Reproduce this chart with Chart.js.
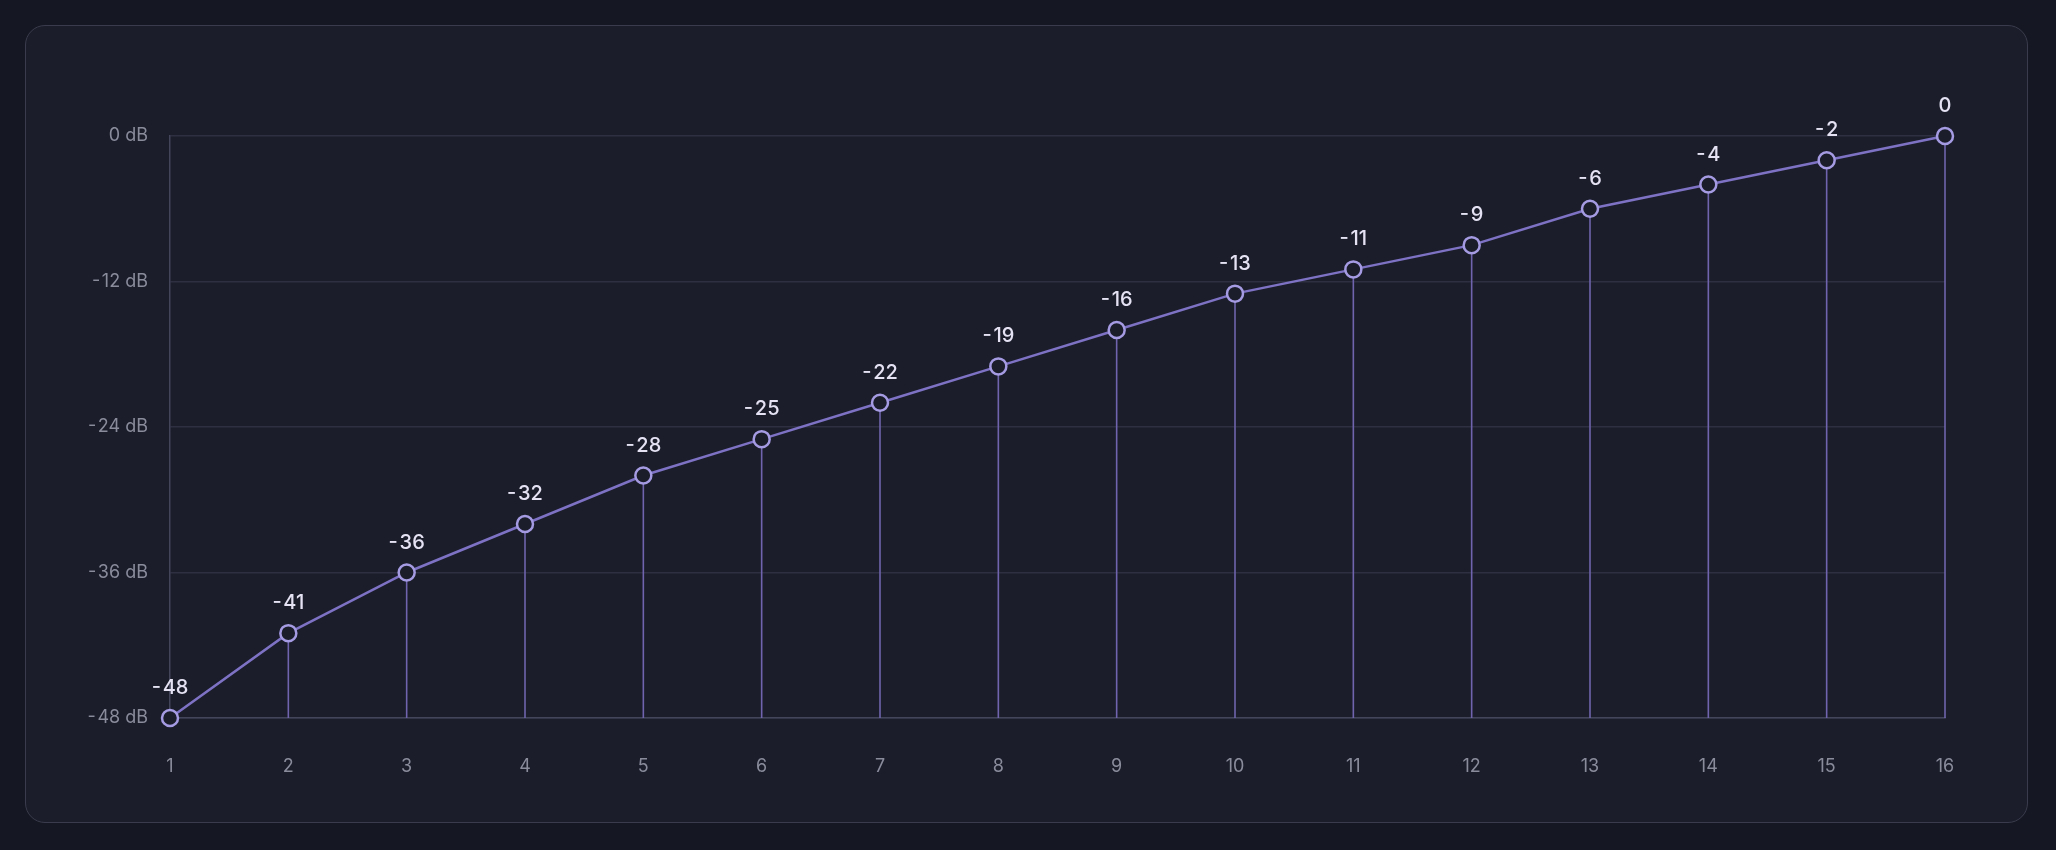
<!DOCTYPE html>
<html>
<head>
<meta charset="utf-8">
<script src="https://cdn.jsdelivr.net/npm/chart.js@4"></script>
<style>
  html, body { margin: 0; padding: 0; background: #151722; }
  body { width: 2056px; height: 850px; position: relative; overflow: hidden; font-family: Inter, sans-serif; }
  .card {
    position: absolute; left: 25px; top: 25px; width: 2001px; height: 796px;
    background: #1b1d2b; border: 1.5px solid #3a3c4d; border-radius: 20px;
  }
  .wrap { position: absolute; left: 0; top: 0; width: 2001px; height: 796px; }
</style>
</head>
<body>
<div class="card"><div class="wrap"><canvas id="gainChart"></canvas></div></div>
<script>
var steps = ["1", "2", "3", "4", "5", "6", "7", "8", "9", "10", "11", "12", "13", "14", "15", "16"];
var gainDb = [-48, -41, -36, -32, -28, -25, -22, -19, -16, -13, -11, -9, -6, -4, -2, 0];
var yTicks = [0, -12, -24, -36, -48];

function withMinus(v) { return String(v).replace('-', '-\u200a'); }

// stems from each point down to the x axis, and value labels above points
var stems = {
  id: 'stems',
  beforeDatasetsDraw: function(chart) {
    var c = chart.ctx, area = chart.chartArea;
    var meta = chart.getDatasetMeta(0);
    c.save();
    c.strokeStyle = '#6f64ad';
    c.lineWidth = 1.6;
    meta.data.forEach(function(pt) {
      c.beginPath();
      c.moveTo(pt.x, pt.y);
      c.lineTo(pt.x, area.bottom);
      c.stroke();
    });
    c.restore();
  },
  afterDatasetsDraw: function(chart) {
    var c = chart.ctx;
    var meta = chart.getDatasetMeta(0);
    c.save();
    c.fillStyle = '#e4e2f3';
    c.font = '500 20px Inter';
    c.textAlign = 'center';
    c.textBaseline = 'middle';
    meta.data.forEach(function(pt, i) {
      c.fillText(withMinus(gainDb[i]), pt.x, pt.y - 30);
    });
    c.restore();
  }
};

var ctx = document.getElementById("gainChart").getContext("2d");
var myChart = new Chart(ctx, {
  type: 'line',
  data: {
    labels: steps,
    datasets: [{
      data: gainDb,
      borderColor: '#7d72c4',
      borderWidth: 2.5,
      pointRadius: 8,
      pointHoverRadius: 8,
      pointBorderWidth: 2.5,
      pointBorderColor: '#a59be3',
      pointBackgroundColor: '#1b1d2b',
      tension: 0,
      clip: false
    }]
  },
  options: {
    responsive: true,
    maintainAspectRatio: false,
    animation: false,
    layout: { padding: { top: 110, right: 82, bottom: 43, left: 0 } },
    plugins: { legend: { display: false }, tooltip: { enabled: false } },
    scales: {
      x: {
        offset: false,
        grid: { display: false, drawTicks: false },
        border: { color: '#43455a', width: 1.5 },
        ticks: { color: '#8a8c9c', font: { family: 'Inter', size: 18 }, padding: 38, maxRotation: 0 },
        afterFit: function(scale) { scale.height = 61; }
      },
      y: {
        min: -48,
        max: 0,
        grid: { color: '#2e3042', lineWidth: 1.5, drawTicks: false },
        border: { color: '#43455a', width: 1.5 },
        afterBuildTicks: function(scale) { scale.ticks = yTicks.map(function(v) { return { value: v }; }); },
        ticks: {
          color: '#8a8c9c',
          font: { family: 'Inter', size: 18 },
          padding: 22,
          callback: function(v) { return withMinus(v) + ' dB'; }
        },
        afterFit: function(scale) { scale.width = 144; }
      }
    }
  },
  plugins: [stems]
});
</script>
</body>
</html>
